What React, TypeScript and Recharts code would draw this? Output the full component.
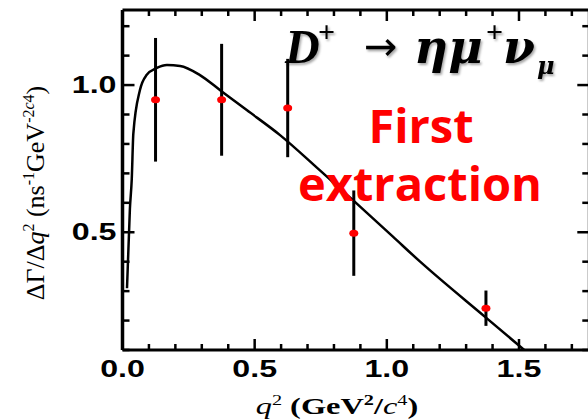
import React from 'react';
import { ComposedChart, Line, Scatter, ErrorBar, XAxis, YAxis } from 'recharts';

// measured points (q^2 bin centres, dGamma/dq^2, uncertainty)
const binQ2 = [0.125, 0.375, 0.625, 0.875, 1.375];
const rate = [0.95, 0.95, 0.922, 0.497, 0.242];
const rateErr = [0.21, 0.19, 0.167, 0.145, 0.06];

// fitted curve
const fitQ2 = [0.017, 0.028, 0.035, 0.041, 0.066, 0.091, 0.13, 0.168, 0.218, 0.293, 0.373, 0.47, 0.596, 0.747, 0.872, 1.023, 1.126, 1.375, 1.52];
const fitRate = [0.31, 0.58, 0.68, 0.835, 0.983, 1.034, 1.058, 1.068, 1.065, 1.034, 0.98, 0.915, 0.83, 0.71, 0.609, 0.485, 0.4, 0.21, 0.1];

const xTicks = [0, 0.1, 0.2, 0.3, 0.4, 0.5, 0.6, 0.7, 0.8, 0.9, 1.0, 1.1, 1.2, 1.3, 1.4, 1.5, 1.6, 1.7];
const xLabels = [0, 0.5, 1.0, 1.5];
const yTicks = [0.1, 0.2, 0.3, 0.4, 0.5, 0.6, 0.7, 0.8, 0.9, 1.0, 1.1, 1.2];
const yLabels = [0.5, 1.0];

const points = binQ2.map((x, i) => ({ x, y: rate[i], err: rateErr[i] }));
const curve = fitQ2.map((x, i) => ({ x, fit: fitRate[i] }));

const isMajor = (v: number, list: number[]) => list.some((l) => Math.abs(l - v) < 1e-6);

const LABEL_FONT = '"Liberation Sans", Arial, sans-serif';
const SERIF = '"Liberation Serif", "Times New Roman", serif';
const GREEK = '"DejaVu Serif", serif';

const BottomTick = (props: any) => {
  const { x, y, payload } = props;
  const major = isMajor(payload.value, xLabels);
  return (
    <g>
      <line x1={x} x2={x} y1={y} y2={y - (major ? 11 : 6)} stroke="#000" strokeWidth={2.5} />
      {major && (
        <text transform={`translate(${x},${y + 27}) scale(1.4,1)`} textAnchor="middle" fontFamily={LABEL_FONT} fontWeight="bold" fontSize={23} fill="#000">
          {payload.value.toFixed(1)}
        </text>
      )}
    </g>
  );
};

const TopTick = (props: any) => {
  const { x, y, payload } = props;
  const major = isMajor(payload.value, xLabels);
  return <line x1={x} x2={x} y1={y} y2={y + (major ? 11 : 6)} stroke="#000" strokeWidth={2.5} />;
};

const LeftTick = (props: any) => {
  const { x, y, payload } = props;
  const major = isMajor(payload.value, yLabels);
  return (
    <g>
      <line x1={x} x2={x + (major ? 12 : 7)} y1={y} y2={y} stroke="#000" strokeWidth={2.5} />
      {major && (
        <text transform={`translate(${x - 6},${y + 8}) scale(1.4,1)`} textAnchor="end" fontFamily={LABEL_FONT} fontWeight="bold" fontSize={23} fill="#000">
          {payload.value.toFixed(1)}
        </text>
      )}
    </g>
  );
};

const RightTick = (props: any) => {
  const { x, y, payload } = props;
  const major = isMajor(payload.value, yLabels);
  return <line x1={x} x2={x - (major ? 12 : 7)} y1={y} y2={y} stroke="#000" strokeWidth={2.5} />;
};

const RedDot = (props: any) => <ellipse cx={props.cx} cy={props.cy} rx={4.5} ry={3.5} fill="#ff0000" />;

export default function App() {
  const W = 600;
  const H = 419;
  return (
    <div style={{ position: 'fixed', left: 0, top: 0, width: 588, height: 419, overflow: 'hidden', background: '#fff' }}>
      <ComposedChart width={W} height={H} margin={{ top: 0, right: 0, bottom: 0, left: 0 }}>
        <XAxis xAxisId="top" orientation="top" type="number" dataKey="x" domain={[0, 1.766]} allowDataOverflow ticks={xTicks} interval={0} height={10} tickSize={0} tickMargin={0} tickLine={false} axisLine={{ stroke: '#000', strokeWidth: 3 }} tick={<TopTick />} />
        <XAxis type="number" dataKey="x" domain={[0, 1.766]} allowDataOverflow ticks={xTicks} interval={0} height={69} tickSize={0} tickMargin={0} tickLine={false} axisLine={{ stroke: '#000', strokeWidth: 3 }} tick={<BottomTick />} />
        <YAxis type="number" domain={[0.1, 1.255]} allowDataOverflow ticks={yTicks} interval={0} width={122.5} tickSize={0} tickMargin={0} tickLine={false} axisLine={{ stroke: '#000', strokeWidth: 3.5 }} tick={<LeftTick />} />
        <YAxis yAxisId="right" orientation="right" type="number" domain={[0.1, 1.255]} allowDataOverflow ticks={yTicks} interval={0} width={10.7} tickSize={0} tickMargin={0} tickLine={false} axisLine={{ stroke: '#000', strokeWidth: 3 }} tick={<RightTick />} />
        <Line data={curve} dataKey="fit" type="monotone" dot={false} stroke="#000" strokeWidth={2.5} isAnimationActive={false} />
        <Scatter data={points} dataKey="y" shape={<RedDot />} isAnimationActive={false}>
          <ErrorBar dataKey="err" direction="y" width={0} stroke="#000" strokeWidth={3} />
        </Scatter>
      </ComposedChart>
      <svg width={588} height={419} style={{ position: 'absolute', left: 0, top: 0, pointerEvents: 'none' }}>
        <defs>
          <filter id="shadow" x="-10%" y="-10%" width="130%" height="140%">
            <feDropShadow dx="1.5" dy="2" stdDeviation="1.2" floodColor="#000" floodOpacity="0.35" />
          </filter>
        </defs>
        <text transform="translate(337,414) scale(1.35,1)" textAnchor="middle" fontFamily={SERIF} fontSize={24} fill="#000">
          <tspan fontStyle="italic">q</tspan>
          <tspan dy={-9} fontSize={15}>2</tspan>
          <tspan dy={9} fontWeight="bold"> (GeV</tspan>
          <tspan dy={-9} fontSize={15} fontWeight="bold">2</tspan>
          <tspan dy={9} fontWeight="bold">/</tspan>
          <tspan fontStyle="italic">c</tspan>
          <tspan dy={-9} fontSize={15}>4</tspan>
          <tspan dy={9} fontWeight="bold">)</tspan>
        </text>
        <text transform="translate(44,193) rotate(-90)" textAnchor="middle" fontFamily={SERIF} fontSize={26} fill="#000">
          <tspan>ΔΓ/Δ</tspan>
          <tspan fontStyle="italic">q</tspan>
          <tspan dy={-10} fontSize={16}>2</tspan>
          <tspan dy={10}> (ns</tspan>
          <tspan dy={-10} fontSize={16}>-1</tspan>
          <tspan dy={10}>GeV</tspan>
          <tspan dy={-10} fontSize={16}>-2</tspan>
          <tspan fontStyle="italic" fontSize={16}>c</tspan>
          <tspan fontSize={16}>4</tspan>
          <tspan dy={10}>)</tspan>
        </text>
        <g filter="url(#shadow)" fontWeight="bold" fill="#000">
          <text x={285} y={63} fontFamily={SERIF} fontSize={48} fontStyle="italic">D</text>
          <text x={318} y={42} fontFamily={SERIF} fontSize={30}>+</text>
          <text x={364} y={60} fontFamily='"DejaVu Sans", sans-serif' fontSize={40} fontWeight="normal">→</text>
          <text x={414} y={63} fontFamily={GREEK} fontSize={47} fontStyle="italic">ημ</text>
          <text x={486} y={42} fontFamily={SERIF} fontSize={30}>+</text>
          <text x={503} y={63} fontFamily={GREEK} fontSize={46} fontStyle="italic">ν</text>
          <text x={537} y={74} fontFamily={GREEK} fontSize={24} fontStyle="italic">μ</text>
        </g>
        <text x={421} y={143} textAnchor="middle" fontFamily='"Open Sans", sans-serif' fontWeight="bold" fontSize={47} fill="#ff0000">First</text>
        <text x={420} y={201} textAnchor="middle" fontFamily='"Open Sans", sans-serif' fontWeight="bold" fontSize={47} fill="#ff0000">extraction</text>
      </svg>
    </div>
  );
}
